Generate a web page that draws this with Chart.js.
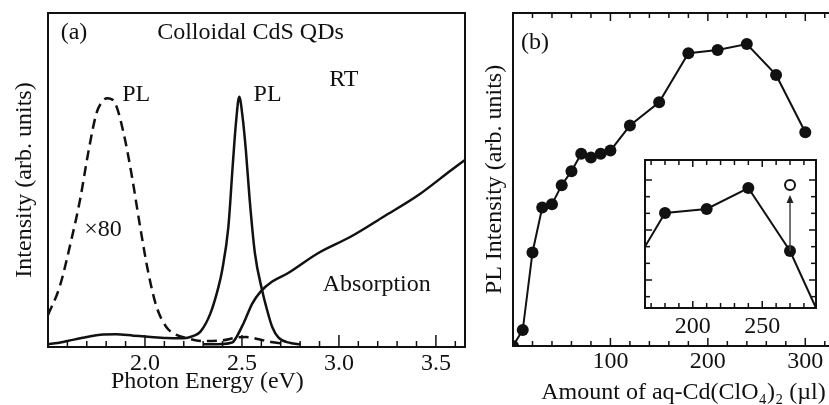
<!DOCTYPE html>
<html>
<head>
<meta charset="utf-8">
<title>CdS QDs PL</title>
<script src="https://cdn.jsdelivr.net/npm/chart.js@4.4.1/dist/chart.umd.min.js"></script>
<style>
  html, body { margin: 0; padding: 0; background: #fff; overflow: hidden; }
  body { position: relative; width: 829px; height: 405px; }
  canvas { position: absolute; top: 0; }
  #chartA { left: 0; }
  #chartB { left: 480px; }
  #chartInset { left: 630px; top: 150px; }
</style>
</head>
<body>
<canvas id="chartA" width="480" height="405"></canvas>
<canvas id="chartB" width="380" height="405"></canvas>
<canvas id="chartInset" width="199" height="190"></canvas>
<script>
// ---- panel (a): spectra of colloidal CdS QDs ----
const plEnergy = [1.50, 1.55, 1.60, 1.70, 1.77, 1.85, 1.94, 2.03, 2.11, 2.18, 2.22, 2.25, 2.286, 2.337,
  2.379, 2.398, 2.43, 2.452, 2.469, 2.486, 2.503, 2.52, 2.54, 2.567, 2.604, 2.63, 2.656, 2.69, 2.75, 2.80];
const plIntensity = [0.009, 0.012, 0.018, 0.030, 0.037, 0.038, 0.034, 0.030, 0.027, 0.026, 0.028, 0.033, 0.046, 0.10,
  0.18, 0.23, 0.36, 0.54, 0.67, 0.749, 0.69, 0.59, 0.44, 0.28, 0.17, 0.11, 0.06, 0.027, 0.012, 0.008];

// deep-trap PL, magnified x80 (dashed)
const plX80Energy = [1.50, 1.56, 1.62, 1.665, 1.71, 1.75, 1.78, 1.806, 1.846, 1.89, 1.933, 1.975, 2.018, 2.06,
  2.11, 2.15, 2.22, 2.30, 2.40, 2.47, 2.52, 2.58, 2.65, 2.72];
const plX80Intensity = [0.096, 0.18, 0.32, 0.44, 0.59, 0.70, 0.735, 0.745, 0.73, 0.64, 0.51, 0.36, 0.22, 0.12,
  0.06, 0.04, 0.026, 0.018, 0.02, 0.028, 0.03, 0.024, 0.015, 0.01];

const absEnergy = [2.30, 2.40, 2.44, 2.456, 2.509, 2.553, 2.596, 2.656, 2.734, 2.89, 3.06, 3.23, 3.41, 3.58, 3.65];
const absIntensity = [0.008, 0.009, 0.012, 0.016, 0.072, 0.13, 0.166, 0.196, 0.22, 0.28, 0.33, 0.39, 0.455, 0.53, 0.56];

// ---- panel (b): PL intensity vs amount of aq-Cd(ClO4)2 ----
const amountUl = [0, 10, 20, 30, 40, 50, 60, 70, 80, 90, 100, 120, 150, 180, 210, 240, 270, 300];
const plVsAmount = [0, 4.8, 28.1, 41.6, 42.6, 48.3, 52.5, 57.7, 56.6, 57.7, 58.7, 66.2, 73.2, 87.9, 88.9, 90.7, 81.4, 64.2];

// inset (own intensity units)
const insetAmount = [150, 180, 210, 240, 270, 300];
const insetPL = [2.82, 7.02, 7.26, 8.52, 4.74, -0.75];
const insetRecovered = [{ x: 270, y: 8.7 }];
const insetArrow = { x: 270, from: 4.74, to: 8.1 };

const INK = '#111';
const SERIF = '"Liberation Serif", "Times New Roman", serif';
Chart.defaults.font.family = SERIF;
Chart.defaults.font.size = 24;
Chart.defaults.color = INK;

const xy = (xs, ys) => xs.map((x, i) => ({ x, y: ys[i] }));

// inward ticks on chosen sides + a closed frame round the plot area
const frameTicks = {
  id: 'frameTicks',
  beforeDatasetsDraw(chart, args, opts) {
    if (!opts.fill) return;
    const a = chart.chartArea;
    chart.ctx.save();
    chart.ctx.fillStyle = opts.fill;
    chart.ctx.fillRect(a.left, a.top, a.right - a.left, a.bottom - a.top);
    chart.ctx.restore();
  },
  afterDatasetsDraw(chart, args, opts) {
    const { ctx, chartArea: a, scales } = chart;
    ctx.save();
    ctx.strokeStyle = INK;
    ctx.lineWidth = opts.tickWidth || 1.5;
    for (const side of opts.sides || []) {
      const scale = scales[side.axis];
      for (const t of scale.ticks) {
        const p = scale.getPixelForValue(t.value);
        const len = side.isMajor(t.value) ? side.major : side.minor;
        if (p <= a.left + 1 || p >= a.right - 1 || p <= a.top + 1 && side.axis === 'y') continue;
        ctx.beginPath();
        if (side.edge === 'bottom') { ctx.moveTo(p, a.bottom); ctx.lineTo(p, a.bottom - len); }
        if (side.edge === 'top') { ctx.moveTo(p, a.top); ctx.lineTo(p, a.top + len); }
        if (side.edge === 'left') { ctx.moveTo(a.left, p); ctx.lineTo(a.left + len, p); }
        if (side.edge === 'right') { ctx.moveTo(a.right, p); ctx.lineTo(a.right - len, p); }
        ctx.stroke();
      }
    }
    ctx.lineWidth = opts.frameWidth || 2;
    ctx.strokeRect(a.left, a.top, a.right - a.left, a.bottom - a.top);
    ctx.restore();
  }
};

// free text anchored in data coordinates
const notes = {
  id: 'notes',
  afterDraw(chart, args, opts) {
    const { ctx, scales } = chart;
    ctx.save();
    ctx.fillStyle = INK;
    ctx.textAlign = 'center';
    ctx.textBaseline = 'middle';
    for (const n of opts.items || []) {
      ctx.font = `${n.size || 24}px ${SERIF}`;
      ctx.fillText(n.text, scales.x.getPixelForValue(n.x), scales.y.getPixelForValue(n.y));
    }
    ctx.restore();
  }
};

// vertical arrow in the inset
const arrow = {
  id: 'arrow',
  afterDatasetsDraw(chart, args, opts) {
    if (!opts.x) return;
    const { ctx, scales } = chart;
    const x = scales.x.getPixelForValue(opts.x);
    const y0 = scales.y.getPixelForValue(opts.from);
    const y1 = scales.y.getPixelForValue(opts.to);
    ctx.save();
    ctx.strokeStyle = '#444';
    ctx.fillStyle = '#222';
    ctx.lineWidth = 1.5;
    ctx.beginPath();
    ctx.moveTo(x, y0);
    ctx.lineTo(x, y1 + 6);
    ctx.stroke();
    ctx.beginPath();
    ctx.moveTo(x, y1);
    ctx.lineTo(x - 3.5, y1 + 8);
    ctx.lineTo(x + 3.5, y1 + 8);
    ctx.closePath();
    ctx.fill();
    ctx.restore();
  }
};

const near = (v, step) => Math.abs(v / step - Math.round(v / step)) < 1e-6;

new Chart(document.getElementById('chartA'), {
  type: 'line',
  data: {
    datasets: [
      { data: xy(plX80Energy, plX80Intensity), borderColor: INK, borderWidth: 2.5, borderDash: [10, 6] },
      { data: xy(plEnergy, plIntensity), borderColor: INK, borderWidth: 2.5 },
      { data: xy(absEnergy, absIntensity), borderColor: INK, borderWidth: 2.5 },
    ],
  },
  options: {
    responsive: false,
    animation: false,
    layout: { padding: { left: 0, right: 15, top: 13, bottom: 0 } },
    elements: { point: { radius: 0 }, line: { cubicInterpolationMode: 'monotone' } },
    plugins: {
      legend: { display: false },
      tooltip: { enabled: false },
      frameTicks: {
        frameWidth: 2,
        sides: [{ axis: 'x', edge: 'bottom', major: 12, minor: 6, isMajor: (v) => near(v, 0.5) }],
      },
      notes: {
        items: [
          { text: '(a)', x: 1.634, y: 0.94 },
          { text: 'Colloidal CdS QDs', x: 2.544, y: 0.94 },
          { text: 'PL', x: 1.955, y: 0.754 },
          { text: 'PL', x: 2.632, y: 0.754 },
          { text: 'RT', x: 3.025, y: 0.80 },
          { text: '×80', x: 1.784, y: 0.35 },
          { text: 'Absorption', x: 3.195, y: 0.186 },
          { text: 'Photon Energy (eV)', x: 2.322, y: -0.105 },
        ],
      },
    },
    scales: {
      x: {
        type: 'linear', min: 1.5, max: 3.65,
        afterFit: (s) => { s.height = 58; },
        grid: { display: false }, border: { display: false },
        ticks: {
          stepSize: 0.1, includeBounds: false, autoSkip: false, maxRotation: 0, padding: -6,
          callback: (v) => (v > 1.9 && near(v, 0.5) ? Number(v).toFixed(1) : ''),
        },
      },
      y: {
        min: 0, max: 1,
        afterFit: (s) => { s.width = 48; },
        grid: { display: false }, border: { display: false },
        ticks: { display: false },
        title: { display: true, text: 'Intensity (arb. units)', padding: { top: 10, bottom: 0 } },
      },
    },
  },
  plugins: [frameTicks, notes],
});

new Chart(document.getElementById('chartB'), {
  type: 'line',
  data: {
    datasets: [{
      data: xy(amountUl, plVsAmount), borderColor: INK, borderWidth: 2,
      pointRadius: 6, pointBackgroundColor: INK, pointBorderWidth: 0,
    }],
  },
  options: {
    responsive: false,
    animation: false,
    layout: { padding: { left: 0, right: 6, top: 13, bottom: 0 } },
    plugins: {
      legend: { display: false },
      tooltip: { enabled: false },
      frameTicks: {
        frameWidth: 2,
        sides: [
          { axis: 'x', edge: 'bottom', major: 8, minor: 5, isMajor: (v) => near(v, 100) },
          { axis: 'x', edge: 'top', major: 8, minor: 5, isMajor: (v) => near(v, 100) },
        ],
      },
      notes: { items: [{ text: '(b)', x: 22.6, y: 91 }] },
    },
    scales: {
      x: {
        type: 'linear', min: 0, max: 350,
        afterFit: (s) => { s.height = 59; },
        grid: { display: false }, border: { display: false },
        ticks: {
          stepSize: 20, includeBounds: false, autoSkip: false, maxRotation: 0, padding: -7,
          callback: (v) => (v > 0 && near(v, 100) ? String(v) : ''),
        },
        title: { display: true, text: 'Amount of aq-Cd(ClO₄)₂ (µl)', padding: { top: 0, bottom: -2 } },
      },
      y: {
        min: 0, max: 100,
        afterFit: (s) => { s.width = 33; },
        grid: { display: false }, border: { display: false },
        ticks: { display: false },
        title: { display: true, text: 'PL Intensity (arb. units)', padding: { top: 0, bottom: 0 } },
      },
    },
  },
  plugins: [frameTicks, notes],
});

new Chart(document.getElementById('chartInset'), {
  type: 'line',
  data: {
    datasets: [
      {
        data: xy(insetAmount, insetPL), borderColor: INK, borderWidth: 2,
        pointRadius: 6, pointBackgroundColor: INK, pointBorderWidth: 0,
      },
      {
        data: insetRecovered, showLine: false,
        pointRadius: 5, pointBackgroundColor: '#fff', pointBorderColor: INK, pointBorderWidth: 2,
      },
    ],
  },
  options: {
    responsive: false,
    animation: false,
    layout: { padding: { left: 0, right: 13, top: 10, bottom: 0 } },
    plugins: {
      legend: { display: false },
      tooltip: { enabled: false },
      arrow: insetArrow,
      frameTicks: {
        fill: '#fff',
        frameWidth: 2,
        sides: [
          { axis: 'x', edge: 'bottom', major: 7, minor: 5, isMajor: (v) => near(v, 50) },
          { axis: 'x', edge: 'top', major: 7, minor: 5, isMajor: (v) => near(v, 50) },
          { axis: 'y', edge: 'left', major: 7, minor: 5, isMajor: (v) => near(v, 3) },
          { axis: 'y', edge: 'right', major: 7, minor: 5, isMajor: (v) => near(v, 3) },
        ],
      },
    },
    scales: {
      x: {
        type: 'linear', min: 165.6, max: 288.7,
        afterFit: (s) => { s.height = 32; },
        grid: { display: false }, border: { display: false },
        ticks: {
          stepSize: 10, includeBounds: false, autoSkip: false, maxRotation: 0, padding: -4,
          callback: (v) => (near(v, 50) ? String(v) : ''),
        },
      },
      y: {
        min: 1.32, max: 10.2,
        afterFit: (s) => { s.width = 15; },
        grid: { display: false }, border: { display: false },
        ticks: { stepSize: 1, includeBounds: false, display: false },
      },
    },
  },
  plugins: [frameTicks, arrow],
});
</script>
</body>
</html>
